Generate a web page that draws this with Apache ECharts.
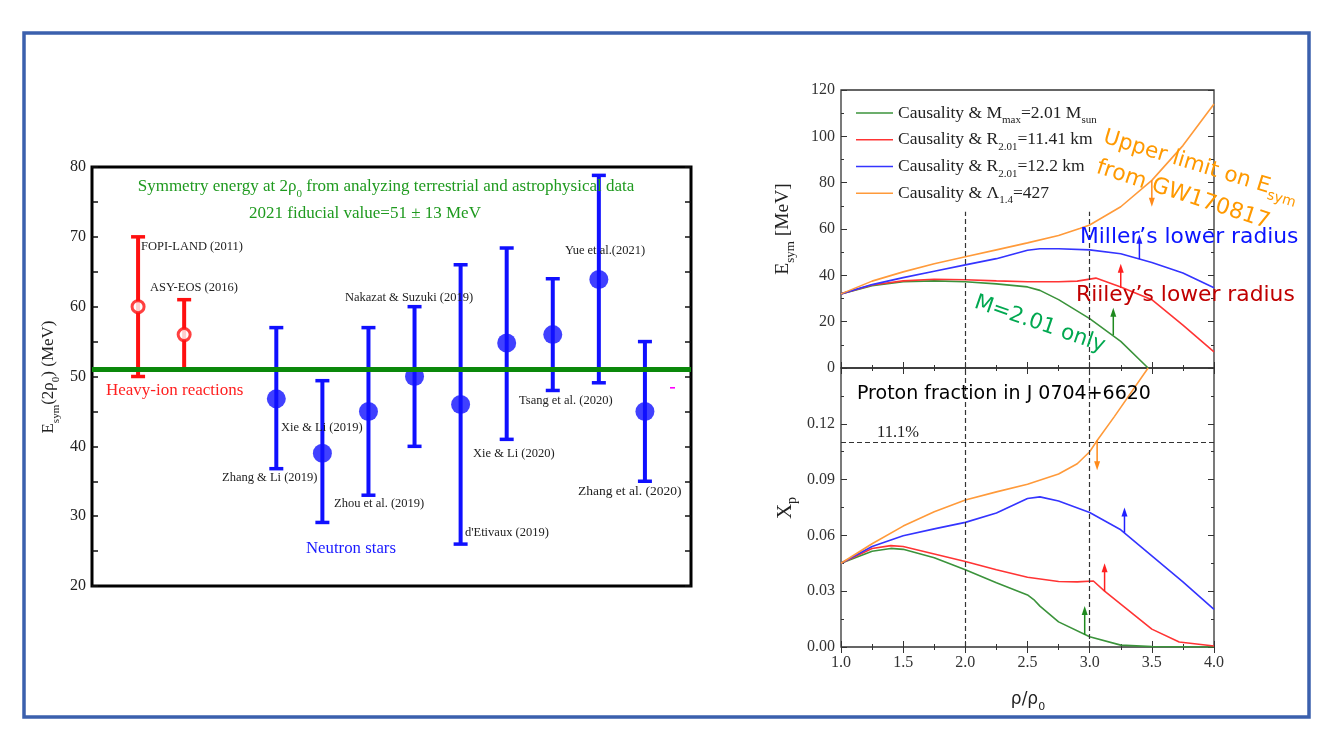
<!DOCTYPE html>
<html>
<head>
<meta charset="utf-8">
<title>Symmetry energy at 2 rho0</title>
<script src="https://cdn.jsdelivr.net/npm/echarts@6/dist/echarts.min.js"></script>
<style>
  html, body { margin: 0; padding: 0; background: #fff; }
  #chart { width: 1334px; height: 750px; }
</style>
</head>
<body>
<div id="chart"></div>
<script>
// ---- left panel: Esym(2rho0) from terrestrial and astrophysical analyses ----
const studyNames = ['FOPI-LAND (2011)', 'ASY-EOS (2016)', 'Zhang & Li (2019)', 'Xie & Li (2019)',
  'Zhou et al. (2019)', 'Nakazat & Suzuki (2019)', "d'Etivaux (2019)", 'Xie & Li (2020)',
  'Tsang et al. (2020)', 'Yue et al.(2021)', 'Zhang et al. (2020)']
const studyPos = [1, 2, 4, 5, 6, 7, 8, 9, 10, 11, 12]
const studyKind = ['hic', 'hic', 'ns', 'ns', 'ns', 'ns', 'ns', 'ns', 'ns', 'ns', 'ns']
const esymMid = [60, 56, 46.8, 39, 45, 50, 46, 54.8, 56, 63.9, 45]
const esymLow = [50, 51, 36.8, 29.1, 33, 40, 26, 41, 48, 49.1, 35]
const esymHigh = [70, 61, 57, 49.4, 57, 60, 66, 68.4, 64, 78.8, 55]
const fiducialEsym = 51

// ---- right panels: Esym and proton fraction vs rho/rho0 ----
const curveNames = ['mmax', 'r1141', 'r122', 'lambda']
const rhoGreenE = [1.0, 1.25, 1.5, 1.75, 2.0, 2.25, 2.5, 2.6, 2.75, 3.0, 3.25, 3.47]
const esymGreen = [32, 35.5, 37.2, 37.6, 37.2, 36.3, 35, 33.5, 29.5, 21.3, 11.5, 0]
const rhoRedE = [1.0, 1.25, 1.5, 1.75, 2.0, 2.25, 2.5, 2.75, 2.9, 3.05, 3.25, 3.5, 3.75, 4.0]
const esymRed = [32, 35.8, 37.6, 38.3, 38.1, 37.6, 37.2, 37.2, 37.5, 38.8, 35, 29.5, 18.5, 7]
const rhoBlueE = [1.0, 1.25, 1.5, 1.75, 2.0, 2.25, 2.5, 2.6, 2.75, 3.0, 3.25, 3.5, 3.75, 4.0]
const esymBlue = [32, 36, 39, 41.8, 44.5, 47.2, 50.8, 51.5, 51.5, 51, 49.3, 45.5, 41, 34.6]
const rhoOrangeE = [1.0, 1.25, 1.5, 1.75, 2.0, 2.25, 2.5, 2.75, 2.92, 3.0, 3.25, 3.5, 3.75, 4.0]
const esymOrange = [32, 37.5, 41.5, 45, 48, 51, 54, 57.2, 60.2, 61.7, 69.6, 81, 96, 114]

const rhoGreenX = [1.0, 1.25, 1.4, 1.5, 1.75, 2.0, 2.25, 2.5, 2.55, 2.6, 2.75, 3.0, 3.25, 3.5, 4.0]
const xpGreen = [0.045, 0.0515, 0.053, 0.0525, 0.048, 0.0415, 0.0345, 0.028, 0.0255, 0.022, 0.0135, 0.0055, 0.001, 0.0002, 0]
const rhoRedX = [1.0, 1.25, 1.4, 1.5, 1.75, 2.0, 2.25, 2.5, 2.75, 2.9, 3.03, 3.12, 3.27, 3.5, 3.72, 4.0]
const xpRed = [0.045, 0.053, 0.0545, 0.054, 0.050, 0.046, 0.0415, 0.0375, 0.0352, 0.035, 0.0355, 0.030, 0.022, 0.0096, 0.0027, 0.0005]
const rhoBlueX = [1.0, 1.25, 1.5, 1.75, 2.0, 2.25, 2.5, 2.6, 2.75, 3.0, 3.25, 3.5, 3.75, 4.0]
const xpBlue = [0.045, 0.054, 0.0598, 0.0635, 0.067, 0.072, 0.0798, 0.0807, 0.0785, 0.0723, 0.063, 0.049, 0.035, 0.0202]
const rhoOrangeX = [1.0, 1.25, 1.5, 1.75, 2.0, 2.25, 2.5, 2.75, 2.9, 3.0, 3.06, 3.2, 3.47]
const xpOrange = [0.045, 0.0555, 0.065, 0.0727, 0.079, 0.0834, 0.0875, 0.093, 0.0985, 0.105, 0.111, 0.124, 0.15]

// arrows, in curve order (green, red, blue, orange)
const arrowRhoE = [3.19, 3.25, 3.40, 3.50]
const arrowFromE = [14.2, 34.5, 47, 81]
const arrowToE = [26, 45, 57.5, 69.6]
const arrowRhoX = [2.96, 3.12, 3.28, 3.06]
const arrowFromX = [0.0065, 0.030, 0.0615, 0.111]
const arrowToX = [0.022, 0.045, 0.075, 0.095]

const guideRho = [2.0, 3.0]
const guideTopEsym = 67.5
const protonLimit = 0.111

const serif = 'Liberation Serif'
const sans = 'DejaVu Sans'
const curveColors = ['#3b933b', '#ff3434', '#3434ff', '#ff9a3a']
const arrowColors = ['#1f8a1f', '#ff2020', '#2020ff', '#ff8a1a']

const legendText = {
  mmax: '{n|Causality & M}{s|max}{n|=2.01 M}{s|sun}',
  r1141: '{n|Causality & R}{s|2.01}{n|=11.41 km}',
  r122: '{n|Causality & R}{s|2.01}{n|=12.2 km}',
  lambda: '{n|Causality & Λ}{s|1.4}{n|=427}'
}

const pairs = (xs, ys) => xs.map((x, i) => [x, ys[i]])

const chart = echarts.init(document.getElementById('chart'))

function errorBar(color) {
  return function (params, api) {
    const x = api.value(0)
    const lo = api.coord([x, api.value(1)])
    const hi = api.coord([x, api.value(2)])
    const cap = 7
    return {
      type: 'group',
      children: [
        { type: 'line', shape: { x1: lo[0], y1: lo[1], x2: hi[0], y2: hi[1] }, style: { stroke: color, lineWidth: 4 } },
        { type: 'line', shape: { x1: hi[0] - cap, y1: hi[1], x2: hi[0] + cap, y2: hi[1] }, style: { stroke: color, lineWidth: 3.5 } },
        { type: 'line', shape: { x1: lo[0] - cap, y1: lo[1], x2: lo[0] + cap, y2: lo[1] }, style: { stroke: color, lineWidth: 3.5 } }
      ]
    }
  }
}

function arrow(params, api) {
  const from = api.coord([api.value(0), api.value(1)])
  const to = api.coord([api.value(0), api.value(2)])
  const color = arrowColors[params.dataIndex]
  const dir = to[1] < from[1] ? -1 : 1
  const head = 9
  return {
    type: 'group',
    children: [
      { type: 'line', shape: { x1: from[0], y1: from[1], x2: to[0], y2: to[1] - dir * 4 }, style: { stroke: color, lineWidth: 1.5 } },
      { type: 'polygon', shape: { points: [[to[0], to[1]], [to[0] - 3, to[1] - dir * head], [to[0] + 3, to[1] - dir * head]] }, style: { fill: color } }
    ]
  }
}

const rows = studyPos.map((x, i) => [x, esymLow[i], esymHigh[i], esymMid[i], i])
const hicRows = rows.filter(r => studyKind[r[4]] === 'hic')
const nsRows = rows.filter(r => studyKind[r[4]] === 'ns')

const labelStyle = { fill: '#222', fontFamily: serif, fontSize: 12.5, verticalAlign: 'middle' }
function note(x, y, text, extra, angle) {
  return {
    type: 'text', x, y, silent: true, z: 20,
    rotation: (angle || 0) * Math.PI / 180,
    style: Object.assign({ text }, labelStyle, extra || {})
  }
}
// rich styles: n = normal text, s = subscript
const subRich = (size, color, family) => ({
  n: { fontFamily: family || serif, fontSize: size, lineHeight: size + 8, verticalAlign: 'middle', fill: color },
  s: { fontFamily: family || serif, fontSize: Math.round(size * 0.65), lineHeight: Math.round(size * 0.65), verticalAlign: 'bottom', fill: color }
})

const rightTick = { show: true, inside: true, length: 6, lineStyle: { color: '#333', width: 1 } }
const rightMinor = { show: true, splitNumber: 2, length: 3, lineStyle: { color: '#333', width: 1 } }
const leftTick = { show: true, inside: true, length: 6, lineStyle: { color: '#111', width: 1.5 } }
const leftMinor = { show: true, splitNumber: 2, length: 6, lineStyle: { color: '#111', width: 1.5 } }
const tickFont = { fontFamily: serif, fontSize: 16, color: '#333' }

function rhoAxis(grid, pos, labels) {
  return {
    type: 'value', gridIndex: grid, position: pos, min: 1, max: 4, interval: 0.5,
    axisLine: { show: false }, splitLine: { show: false },
    axisTick: rightTick, minorTick: rightMinor,
    axisLabel: Object.assign({ show: labels, margin: 8, formatter: v => v.toFixed(1) }, tickFont)
  }
}

const option = {
  animation: false,
  backgroundColor: '#fff',
  grid: [
    { left: 92, top: 167, width: 599, height: 419, show: true, borderColor: '#000', borderWidth: 3, backgroundColor: '#fff', outerBoundsMode: 'none' },
    { left: 841, top: 90, width: 373, height: 278, show: true, borderColor: '#333', borderWidth: 1.3, outerBoundsMode: 'none' },
    { left: 841, top: 368, width: 373, height: 279, show: true, borderColor: '#333', borderWidth: 1.3, outerBoundsMode: 'none' }
  ],
  xAxis: [
    { type: 'value', gridIndex: 0, min: 0, max: 13, show: false },
    rhoAxis(1, 'bottom', false),
    rhoAxis(1, 'top', false),
    rhoAxis(2, 'bottom', true),
    rhoAxis(2, 'top', false)
  ],
  yAxis: [
    {
      type: 'value', gridIndex: 0, min: 20, max: 80, interval: 10,
      axisLine: { show: false }, splitLine: { show: false },
      axisTick: leftTick, minorTick: leftMinor,
      axisLabel: { margin: 6, fontFamily: serif, fontSize: 16, color: '#222' }
    },
    {
      type: 'value', gridIndex: 0, position: 'right', min: 20, max: 80, interval: 10,
      axisLine: { show: false }, splitLine: { show: false },
      axisTick: leftTick, minorTick: leftMinor, axisLabel: { show: false }
    },
    {
      type: 'value', gridIndex: 1, min: 0, max: 120, interval: 20,
      axisLine: { show: false }, splitLine: { show: false },
      axisTick: rightTick, minorTick: rightMinor,
      axisLabel: Object.assign({ margin: 6 }, tickFont)
    },
    {
      type: 'value', gridIndex: 1, position: 'right', min: 0, max: 120, interval: 20,
      axisLine: { show: false }, splitLine: { show: false },
      axisTick: rightTick, minorTick: rightMinor, axisLabel: { show: false }
    },
    {
      type: 'value', gridIndex: 2, min: 0, max: 0.15, interval: 0.03,
      axisLine: { show: false }, splitLine: { show: false },
      axisTick: rightTick, minorTick: rightMinor,
      axisLabel: Object.assign({ margin: 6, showMaxLabel: false, formatter: v => v.toFixed(2) }, tickFont)
    },
    {
      type: 'value', gridIndex: 2, position: 'right', min: 0, max: 0.15, interval: 0.03,
      axisLine: { show: false }, splitLine: { show: false },
      axisTick: rightTick, minorTick: rightMinor, axisLabel: { show: false }
    }
  ],
  legend: {
    left: 851, top: 99, orient: 'vertical', selectedMode: false,
    icon: 'rect', itemWidth: 37, itemHeight: 1.6, itemGap: 5,
    data: curveNames,
    formatter: name => legendText[name],
    textStyle: { fontFamily: serif, color: '#222', rich: subRich(17.5, '#222') }
  },
  series: [
    // left panel
    {
      type: 'custom', name: 'hic-bars', xAxisIndex: 0, yAxisIndex: 0, z: 2,
      renderItem: errorBar('#ff1010'), data: hicRows, encode: { x: 0, y: [1, 2] }, silent: true
    },
    {
      type: 'custom', name: 'ns-bars', xAxisIndex: 0, yAxisIndex: 0, z: 2,
      renderItem: errorBar('#1010ff'), data: nsRows, encode: { x: 0, y: [1, 2] }, silent: true
    },
    {
      type: 'scatter', name: 'hic-mid', xAxisIndex: 0, yAxisIndex: 0, z: 3, silent: true,
      symbol: 'circle', symbolSize: 12,
      itemStyle: { color: '#fff', borderColor: '#ff1010', borderWidth: 3 },
      data: hicRows.map(r => [r[0], r[3]])
    },
    {
      type: 'scatter', name: 'ns-mid', xAxisIndex: 0, yAxisIndex: 0, z: 3, silent: true,
      symbol: 'circle', symbolSize: 19,
      itemStyle: { color: '#1010ff' },
      data: nsRows.map(r => [r[0], r[3]])
    },
    {
      type: 'line', name: 'fiducial', xAxisIndex: 0, yAxisIndex: 0, z: 6, data: [], silent: true,
      markLine: {
        silent: true, symbol: 'none', label: { show: false },
        lineStyle: { color: '#0a880a', width: 5, type: 'solid' },
        data: [{ yAxis: fiducialEsym }]
      }
    },
    // right top: Esym
    { type: 'line', name: 'mmax', xAxisIndex: 1, yAxisIndex: 2, data: pairs(rhoGreenE, esymGreen), showSymbol: false, color: curveColors[0], lineStyle: { width: 1.6 } },
    { type: 'line', name: 'r1141', xAxisIndex: 1, yAxisIndex: 2, data: pairs(rhoRedE, esymRed), showSymbol: false, color: curveColors[1], lineStyle: { width: 1.6 } },
    { type: 'line', name: 'r122', xAxisIndex: 1, yAxisIndex: 2, data: pairs(rhoBlueE, esymBlue), showSymbol: false, color: curveColors[2], lineStyle: { width: 1.6 } },
    {
      type: 'line', name: 'lambda', xAxisIndex: 1, yAxisIndex: 2, data: pairs(rhoOrangeE, esymOrange), showSymbol: false, color: curveColors[3], lineStyle: { width: 1.6 },
      markLine: {
        silent: true, symbol: 'none', label: { show: false },
        lineStyle: { color: '#333', width: 1.2, type: [5, 3] },
        data: guideRho.map(r => [{ coord: [r, 0] }, { coord: [r, guideTopEsym] }])
      }
    },
    {
      type: 'custom', name: 'arrowsE', xAxisIndex: 1, yAxisIndex: 2, renderItem: arrow, silent: true, z: 5,
      data: arrowRhoE.map((r, i) => [r, arrowFromE[i], arrowToE[i]]), encode: { x: 0, y: [1, 2] }
    },
    // right bottom: proton fraction
    { type: 'line', name: 'mmax', xAxisIndex: 3, yAxisIndex: 4, data: pairs(rhoGreenX, xpGreen), showSymbol: false, color: curveColors[0], lineStyle: { width: 1.6 } },
    { type: 'line', name: 'r1141', xAxisIndex: 3, yAxisIndex: 4, data: pairs(rhoRedX, xpRed), showSymbol: false, color: curveColors[1], lineStyle: { width: 1.6 } },
    { type: 'line', name: 'r122', xAxisIndex: 3, yAxisIndex: 4, data: pairs(rhoBlueX, xpBlue), showSymbol: false, color: curveColors[2], lineStyle: { width: 1.6 } },
    {
      type: 'line', name: 'lambda', xAxisIndex: 3, yAxisIndex: 4, data: pairs(rhoOrangeX, xpOrange), showSymbol: false, color: curveColors[3], lineStyle: { width: 1.6 },
      markLine: {
        silent: true, symbol: 'none', label: { show: false },
        lineStyle: { color: '#333', width: 1.2, type: [5, 3] },
        data: guideRho.map(r => ({ xAxis: r })).concat([{ yAxis: protonLimit }])
      }
    },
    {
      type: 'custom', name: 'arrowsX', xAxisIndex: 3, yAxisIndex: 4, renderItem: arrow, silent: true, z: 5,
      data: arrowRhoX.map((r, i) => [r, arrowFromX[i], arrowToX[i]]), encode: { x: 0, y: [1, 2] }
    }
  ],
  graphic: [
    // outer frame
    { type: 'rect', silent: true, z: 30, shape: { x: 24, y: 33, width: 1285, height: 684 }, style: { fill: 'none', stroke: '#3b60ad', lineWidth: 3.5 } },
    // left panel texts
    note(386, 187, '{n|Symmetry energy at 2ρ}{s|0}{n| from analyzing terrestrial and astrophysical data}', {
      align: 'center', rich: subRich(17, '#1f9a1f')
    }),
    note(365, 214, '2021 fiducial value=51 ± 13 MeV', { align: 'center', fontSize: 17, fill: '#1f9a1f' }),
    note(141, 247, studyNames[0]),
    note(150, 288, studyNames[1]),
    note(222, 478, studyNames[2]),
    note(281, 428, studyNames[3]),
    note(334, 503.5, studyNames[4]),
    note(345, 297.5, studyNames[5]),
    note(465, 533, studyNames[6]),
    note(473, 453.5, studyNames[7]),
    note(519, 401, studyNames[8]),
    note(565, 250.5, studyNames[9]),
    note(578, 491, studyNames[10], { fontSize: 13.5 }),
    note(106, 391, 'Heavy-ion reactions', { fontSize: 17, fill: '#ff2020' }),
    note(306, 549, 'Neutron stars', { fontSize: 16.8, fill: '#1a1aff' }),
    { type: 'rect', silent: true, shape: { x: 670, y: 387, width: 5, height: 1.6 }, style: { fill: '#ff00ff' } },
    note(49, 377, '{n|E}{s|sym}{n|(2ρ}{s|0}{n|) (MeV)}', { align: 'center', rich: subRich(17, '#222') }, 90),
    // right panel texts
    note(783, 229, '{n|E}{s|sym}{n| [MeV]}', { align: 'center', rich: subRich(19.5, '#222') }, 90),
    note(785, 508, '{n|X}{s|p}', { align: 'center', rich: subRich(21, '#222') }, 90),
    note(1028, 700, '{n|ρ/ρ}{s|0}', { align: 'center', rich: subRich(17, '#222', sans) }),
    note(877, 433, '11.1%', { fontSize: 16.5 }),
    note(857, 394, 'Proton fraction in J 0704+6620', { fontFamily: sans, fontSize: 19, fill: '#000' }),
    note(1080, 237, 'Miller’s lower radius', { fontFamily: sans, fontSize: 21.8, fill: '#0a14ff' }),
    note(1076, 295, 'Riiley’s lower radius', { fontFamily: sans, fontSize: 21.8, fill: '#c00000' }),
    note(1104, 137, '{n|Upper limit on E}{s|sym}', { rich: subRich(21.5, '#ff9900', sans) }, -17),
    note(1097, 167, 'from GW170817', { fontFamily: sans, fontSize: 22, fill: '#ff9900' }, -18),
    note(975, 302, 'M=2.01 only', { fontFamily: sans, fontSize: 21.5, fill: '#00a850' }, -19)
  ]
}

chart.setOption(option)
</script>
</body>
</html>
